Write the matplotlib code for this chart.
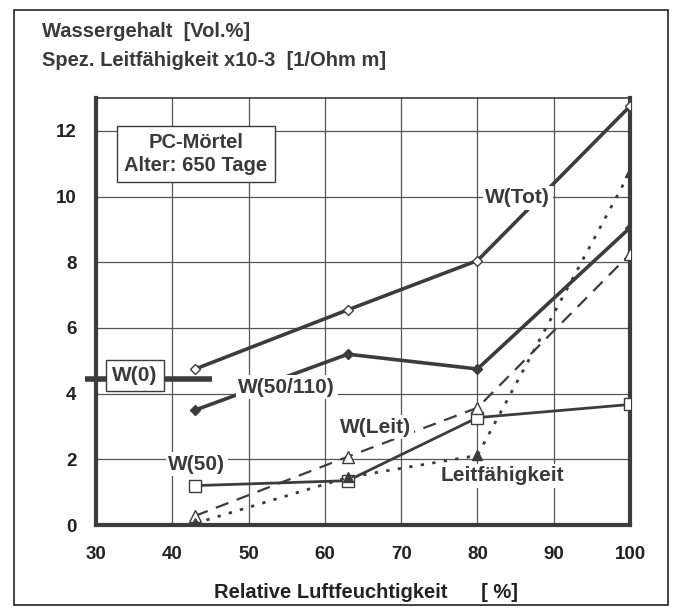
import matplotlib
matplotlib.use("Agg")
import matplotlib.pyplot as plt
from matplotlib.patches import Rectangle

plt.rcParams['font.family'] = ['Liberation Sans', 'DejaVu Sans']

# relative humidity [%]
rh = [43, 63, 80, 100]
w_tot = [4.75, 6.55, 8.05, 12.75]
w_50_110 = [3.5, 5.2, 4.75, 9.05]
w_50 = [1.2, 1.35, 3.27, 3.67]
w_leit = [0.28, 2.08, 3.57, 8.25]
leitf = [0.05, 1.45, 2.12, 10.75]
w0_level = 4.45

xticks = [30, 40, 50, 60, 70, 80, 90, 100]
yticks = [0, 2, 4, 6, 8, 10, 12]

col = '#3c3c3c'
txt = '#3a3a3a'

fig = plt.figure(figsize=(6.84, 6.15), dpi=100)
ax = fig.add_axes([0.1404, 0.1463, 0.7807, 0.6944])
ax.set_xlim(30, 100)
ax.set_ylim(0, 13)
ax.set_xticks(xticks)
ax.set_yticks(yticks)
ax.grid(True, color='#555555', lw=0.9)
ax.set_axisbelow(True)
ax.tick_params(length=0, labelsize=13.5, colors='#222222')
ax.tick_params(axis='x', pad=15)
ax.tick_params(axis='y', pad=14)
for lab in ax.get_xticklabels() + ax.get_yticklabels():
    lab.set_fontweight('bold')
for s in ['left', 'bottom', 'right']:
    ax.spines[s].set_linewidth(3)
    ax.spines[s].set_color(col)
ax.spines['top'].set_linewidth(1.2)
ax.spines['top'].set_color(col)

ax.plot(rh, w_tot, color=col, lw=2.6, marker='D', ms=5, mfc='white', mec=col, mew=1, zorder=3)
ax.plot(rh, w_50_110, color=col, lw=2.6, marker='D', ms=5, mfc=col, mec=col, zorder=3)
ax.plot(rh, w_50, color=col, lw=2.0, marker='s', ms=8, mfc='white', mec=col, mew=1, zorder=3)
ax.plot(rh, w_leit, color=col, lw=1.6, ls=(0, (6, 4)), marker='^', ms=8, mfc='white', mec=col, mew=1, zorder=3)
ax.plot(rh, leitf, color=col, lw=2.0, ls=(0, (1.2, 3)), marker='^', ms=7, mfc=col, mec=col, zorder=3)

# W(0) bar and label
ax.plot([28.5, 45.2], [w0_level, w0_level], color=col, lw=4, solid_capstyle='butt', clip_on=False, zorder=2)
ax.text(35.1, 4.55, 'W(0)', ha='center', va='center', fontsize=15, fontweight='bold', color=txt,
        bbox=dict(boxstyle='square,pad=0.3', fc='white', ec=col, lw=1), zorder=4)

lbl = dict(fontsize=15, fontweight='bold', color=txt, ha='center', va='center', zorder=5)
white = dict(boxstyle='square,pad=0.12', fc='white', ec='none')
ax.text(85.3, 9.97, 'W(Tot)', bbox=white, **lbl)
ax.text(55.0, 4.2, 'W(50/110)', bbox=white, **lbl)
ax.text(66.7, 2.97, 'W(Leit)', bbox=white, **lbl)
ax.text(43.2, 1.85, 'W(50)', bbox=white, **lbl)
ax.text(83.3, 1.5, 'Leitfähigkeit', bbox=white, **lbl)

ax.text(43.1, 11.3, 'PC-Mörtel\nAlter: 650 Tage', ha='center', va='center', fontsize=14.5,
        fontweight='bold', color=txt, linespacing=1.25,
        bbox=dict(boxstyle='square,pad=0.35', fc='white', ec=col, lw=1), zorder=6)

fig.text(0.061, 0.948, 'Wassergehalt  [Vol.%]', fontsize=14.5, fontweight='bold', color=txt, va='center')
fig.text(0.061, 0.902, 'Spez. Leitfähigkeit x10-3  [1/Ohm m]', fontsize=14.5, fontweight='bold', color=txt, va='center')
fig.text(0.535, 0.037, 'Relative Luftfeuchtigkeit      [ %]', fontsize=14.5, fontweight='bold',
         color='#222222', ha='center', va='center')

fig.patches.append(Rectangle((0.021, 0.016), 0.956, 0.968, transform=fig.transFigure,
                             fill=False, ec='#222222', lw=1.2))

fig.savefig('out.png', dpi=100)
